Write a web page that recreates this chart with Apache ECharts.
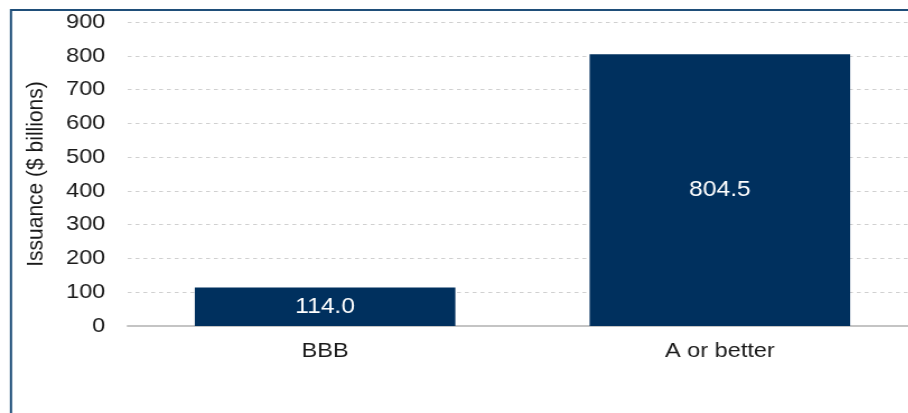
<!DOCTYPE html>
<html>
<head>
<meta charset="utf-8">
<script src="https://cdn.jsdelivr.net/npm/echarts@6/dist/echarts.min.js"></script>
<style>
  html, body { margin: 0; padding: 0; background: #fff; overflow: hidden; width: 908px; height: 413px; }
  /* the source picture is slightly stretched sideways, so the chart is drawn narrower and scaled */
  #main { width: 830px; height: 413px; transform: scaleX(1.12); transform-origin: 0 0; }
</style>
</head>
<body>
<div id="main"></div>
<script>
var categories = ['BBB', 'A or better'];
var issuance = [114.0, 804.5];
var yTicks = { min: 0, max: 900, interval: 100 };

var myChart = echarts.init(document.getElementById('main'));
myChart.setOption({
    animation: false,
    textStyle: { fontFamily: 'Liberation Sans, Arial, sans-serif' },
    graphic: [{
        type: 'rect',
        shape: { x: 9.8, y: 10, width: 1000, height: 1000 },
        style: { fill: 'none', stroke: '#1f4e79', lineWidth: 2 },
        silent: true
    }],
    grid: { left: 114, top: 22, width: 705, bottom: 87 },
    xAxis: {
        type: 'category',
        data: categories,
        axisLine: { lineStyle: { color: '#c4c4c4', width: 2 } },
        axisTick: { show: false },
        axisLabel: { color: '#1a1a1a', fontSize: 21, margin: 15 }
    },
    yAxis: {
        type: 'value',
        min: yTicks.min,
        max: yTicks.max,
        interval: yTicks.interval,
        name: 'Issuance ($ billions)',
        nameLocation: 'middle',
        nameGap: 71,
        nameTextStyle: { color: '#1a1a1a', fontSize: 21 },
        axisLabel: { color: '#1a1a1a', fontSize: 21, margin: 20 },
        splitLine: { lineStyle: { color: '#d0d0d0', type: [3.5, 3.5] } }
    },
    series: [{
        type: 'bar',
        data: issuance,
        barWidth: '66%',
        itemStyle: { color: '#00305e' },
        label: {
            show: true,
            position: 'inside',
            color: '#fff',
            fontSize: 22,
            formatter: function (p) { return p.value.toFixed(1); }
        }
    }]
});
</script>
</body>
</html>
